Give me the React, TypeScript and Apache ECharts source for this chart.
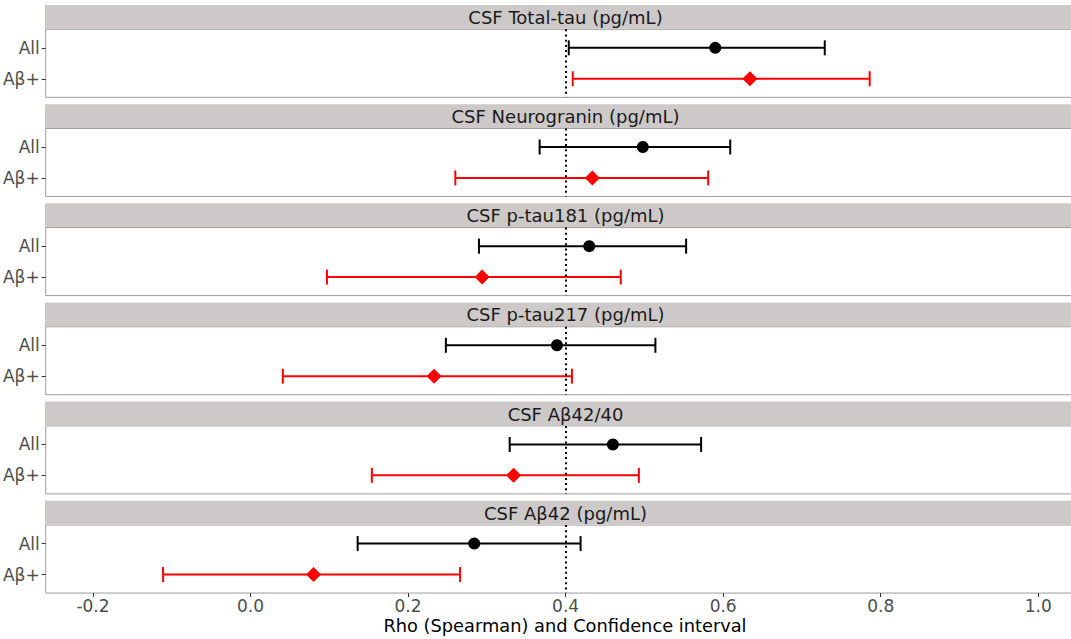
import React, { useEffect, useRef } from "react";
import * as echarts from "echarts";

const panelTitles = [
  "CSF Total-tau (pg/mL)",
  "CSF Neurogranin (pg/mL)",
  "CSF p-tau181 (pg/mL)",
  "CSF p-tau217 (pg/mL)",
  "CSF Aβ42/40",
  "CSF Aβ42 (pg/mL)",
];
const groupLabels = ["All", "Aβ+"];

const allRho = [0.59, 0.498, 0.43, 0.389, 0.46, 0.284];
const allLo = [0.404, 0.367, 0.29, 0.248, 0.329, 0.136];
const allHi = [0.729, 0.609, 0.553, 0.514, 0.572, 0.419];

const abRho = [0.634, 0.434, 0.294, 0.233, 0.334, 0.08];
const abLo = [0.409, 0.26, 0.097, 0.041, 0.154, -0.111];
const abHi = [0.786, 0.581, 0.47, 0.408, 0.493, 0.266];

const xTicks = [-0.2, 0.0, 0.2, 0.4, 0.6, 0.8, 1.0];
const refLine = 0.4;

const FONT = "DejaVu Sans";
const CHART_W = 1086;

export default function App() {
  const ref = useRef<HTMLDivElement>(null);

  useEffect(() => {
    if (!ref.current) return;
    const chart = echarts.init(ref.current, null, { renderer: "svg" });

    const pitch = 99.15;
    const bodyTop0 = 29.3;
    const bodyH = 68;
    const stripTop0 = 5;
    const stripH = 23.8;
    const n = panelTitles.length;

    const grids: any[] = [];
    const xAxes: any[] = [];
    const yAxes: any[] = [];
    const series: any[] = [];
    const graphics: any[] = [];

    const errRender = (color: string) => (params: any, api: any) => {
      const lo = api.value(0);
      const hi = api.value(1);
      const y = api.value(2);
      const p1 = api.coord([lo, y]);
      const p2 = api.coord([hi, y]);
      const h = 7.5;
      const style = { stroke: color, lineWidth: 2 };
      return {
        type: "group",
        children: [
          { type: "line", shape: { x1: p1[0], y1: p1[1], x2: p2[0], y2: p2[1] }, style },
          { type: "line", shape: { x1: p1[0], y1: p1[1] - h, x2: p1[0], y2: p1[1] + h }, style },
          { type: "line", shape: { x1: p2[0], y1: p2[1] - h, x2: p2[0], y2: p2[1] + h }, style },
        ],
      };
    };

    for (let i = 0; i < n; i++) {
      const last = i === n - 1;
      const top = bodyTop0 + pitch * i;
      grids.push({
        left: 44.5,
        right: 0.5,
        top,
        height: bodyH,
        show: true,
        borderColor: "#9c9c9c",
        borderWidth: 1,
        backgroundColor: "#ffffff",
      });
      xAxes.push({
        type: "value",
        gridIndex: i,
        min: -0.26,
        max: 1.06,
        position: "bottom",
        splitLine: { show: false },
        axisLine: { show: false, onZero: false },
        axisTick: {
          show: last,
          customValues: xTicks,
          length: 4,
          lineStyle: { color: "#333333", width: 1 },
        },
        axisLabel: {
          show: last,
          customValues: xTicks,
          formatter: (v: number) => v.toFixed(1),
          color: "#4d4d4d",
          fontSize: 17,
          fontFamily: FONT,
          margin: 4,
        },
      });
      yAxes.push({
        type: "value",
        gridIndex: i,
        min: 0.4,
        max: 2.6,
        inverse: true,
        position: "left",
        splitLine: { show: false },
        axisLine: { show: false, onZero: false },
        axisTick: {
          show: true,
          customValues: [1, 2],
          length: 4,
          lineStyle: { color: "#333333", width: 1 },
        },
        axisLabel: {
          customValues: [1, 2],
          formatter: (v: number) => groupLabels[Math.round(v) - 1] || "",
          color: "#4d4d4d",
          fontSize: 17,
          fontFamily: FONT,
          margin: 6,
        },
      });

      series.push({
        type: "custom",
        xAxisIndex: i,
        yAxisIndex: i,
        renderItem: errRender("#000000"),
        encode: { x: [0, 1], y: 2 },
        data: [[allLo[i], allHi[i], 1]],
        z: 2,
      });
      series.push({
        type: "custom",
        xAxisIndex: i,
        yAxisIndex: i,
        renderItem: errRender("#ff0000"),
        encode: { x: [0, 1], y: 2 },
        data: [[abLo[i], abHi[i], 2]],
        z: 2,
      });
      series.push({
        type: "scatter",
        xAxisIndex: i,
        yAxisIndex: i,
        symbol: "circle",
        symbolSize: 12,
        itemStyle: { color: "#000000", opacity: 1 },
        data: [[allRho[i], 1]],
        z: 3,
      });
      series.push({
        type: "scatter",
        xAxisIndex: i,
        yAxisIndex: i,
        symbol: "diamond",
        symbolSize: 15,
        itemStyle: { color: "#ff0000", opacity: 1 },
        data: [[abRho[i], 2]],
        z: 3,
      });
      series.push({
        type: "scatter",
        xAxisIndex: i,
        yAxisIndex: i,
        data: [],
        z: 5,
        silent: true,
        markLine: {
          silent: true,
          symbol: "none",
          label: { show: false },
          lineStyle: { color: "#000000", width: 2, type: [2, 3.2], opacity: 1 },
          data: [{ xAxis: refLine }],
          z: 5,
        },
      });

      const stripTop = stripTop0 + pitch * i;
      graphics.push({
        type: "rect",
        shape: { x: 45, y: stripTop, width: CHART_W - 45, height: stripH },
        style: { fill: "#cdc9c9" },
        silent: true,
      });
      graphics.push({
        type: "text",
        x: 565.5,
        y: stripTop + stripH / 2 + 0.5,
        style: {
          text: panelTitles[i],
          fill: "#1a1a1a",
          fontSize: 18,
          fontFamily: FONT,
          align: "center",
          verticalAlign: "middle",
        },
        silent: true,
      });
    }

    graphics.push({
      type: "text",
      x: 565,
      y: 625,
      style: {
        text: "Rho (Spearman) and Confidence interval",
        fill: "#000000",
        fontSize: 17.8,
        fontFamily: FONT,
        align: "center",
        verticalAlign: "middle",
      },
      silent: true,
    });

    chart.setOption({
      animation: false,
      backgroundColor: "#ffffff",
      grid: grids,
      xAxis: xAxes,
      yAxis: yAxes,
      series,
      graphic: graphics,
    });

    return () => chart.dispose();
  }, []);

  return (
    <div
      style={{
        position: "fixed",
        left: 0,
        top: 0,
        width: 1071,
        height: 639,
        overflow: "hidden",
        background: "#ffffff",
      }}
    >
      <div ref={ref} style={{ width: CHART_W, height: 639 }} />
    </div>
  );
}
